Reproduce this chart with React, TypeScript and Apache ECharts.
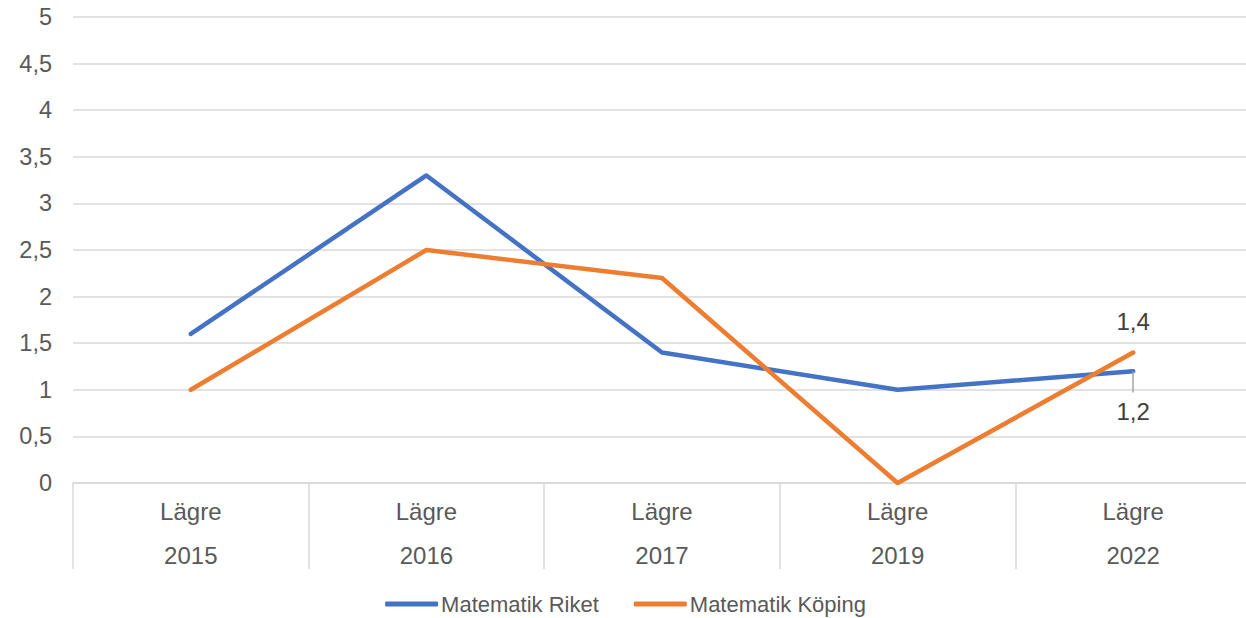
import React, { useEffect, useRef } from "react";
import * as echarts from "echarts";

const levels = ["Lägre", "Lägre", "Lägre", "Lägre", "Lägre"];
const years = ["2015", "2016", "2017", "2019", "2022"];
const riket = [1.6, 3.3, 1.4, 1.0, 1.2];
const koping = [1.0, 2.5, 2.2, 0, 1.4];
const seriesNames = ["Matematik Riket", "Matematik Köping"];
const colors = ["#4472C4", "#ED7D31"];
const FONT = "'Liberation Sans', Arial, sans-serif";

export default function App() {
  const ref = useRef<HTMLDivElement>(null);
  useEffect(() => {
    if (!ref.current) return;
    const chart = echarts.init(ref.current, undefined, { renderer: "svg" });
    const last = years.length - 1;
    const mkData = (arr: number[], pos: "top" | "bottom", dist: number) =>
      arr.map((v, i) =>
        i === last
          ? {
              value: v,
              label: {
                show: true,
                position: pos,
                distance: dist,
                formatter: (p: any) => String(p.value).replace(".", ","),
                color: "#404040",
                fontSize: 24,
                fontFamily: FONT,
              },
            }
          : v
      );
    chart.setOption({
      animation: false,
      textStyle: { fontFamily: FONT },
      grid: { left: 73, top: 17, right: 0, height: 466, containLabel: false },
      legend: {
        top: 588,
        left: "center",
        icon: "roundRect",
        itemWidth: 53,
        itemHeight: 5,
        itemGap: 35,
        textStyle: { color: "#595959", fontSize: 22, fontFamily: FONT, padding: [0, 0, 0, -2] },
        data: seriesNames,
      },
      xAxis: {
        type: "category",
        data: years,
        boundaryGap: true,
        axisLine: { show: true, lineStyle: { color: "#D9D9D9", width: 1.5 } },
        axisTick: { show: true, length: 86, interval: 0, lineStyle: { color: "#D9D9D9", width: 1.5 } },
        axisLabel: {
          interval: 0,
          margin: 6,
          color: "#595959",
          fontSize: 24,
          lineHeight: 44,
          fontFamily: FONT,
          formatter: (_v: string, i: number) => `${levels[i]}\n${years[i]}`,
        },
      },
      yAxis: {
        type: "value",
        min: 0,
        max: 5,
        interval: 0.5,
        axisLine: { show: false },
        axisTick: { show: false },
        splitLine: { lineStyle: { color: "#D9D9D9", width: 1.5 } },
        axisLabel: {
          margin: 21,
          color: "#595959",
          fontSize: 23.5,
          fontFamily: FONT,
          formatter: (v: number) => String(v).replace(".", ","),
        },
      },
      series: [
        {
          name: seriesNames[0],
          type: "line",
          data: mkData(riket, "bottom", 28),
          symbol: "circle",
          symbolSize: 0,
          showSymbol: true,
          color: colors[0],
          lineStyle: { width: 4.5, cap: "round", join: "round" },
          z: 3,
          markLine: {
            silent: true,
            symbol: "none",
            label: { show: false },
            lineStyle: { color: "#A6A6A6", width: 1.5, type: "solid" },
            data: [[{ coord: [last, riket[last]] }, { coord: [last, riket[last] - 0.23] }]],
          },
        },
        {
          name: seriesNames[1],
          type: "line",
          data: mkData(koping, "top", 19),
          symbol: "circle",
          symbolSize: 0,
          showSymbol: true,
          color: colors[1],
          lineStyle: { width: 4.5, cap: "round", join: "round" },
          z: 4,
        },
      ],
    });
    return () => chart.dispose();
  }, []);
  return (
    <div
      ref={ref}
      style={{ position: "fixed", left: 0, top: 0, width: 1251, height: 618, background: "#fff" }}
    />
  );
}
